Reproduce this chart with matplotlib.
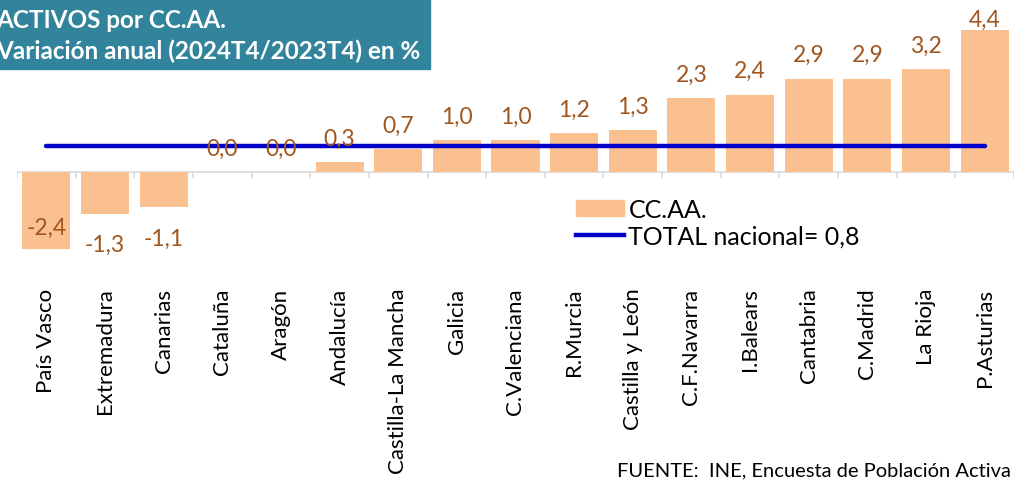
import matplotlib
matplotlib.use("Agg")
import matplotlib.pyplot as plt
import matplotlib.patches as mpatches
from matplotlib.lines import Line2D
import numpy as np

# ── Data ──────────────────────────────────────────────────────────────────────
regions = ["País Vasco", "Extremadura", "Canarias", "Cataluña", "Aragón",
           "Andalucía", "Castilla-La Mancha", "Galicia", "C.Valenciana",
           "R.Murcia", "Castilla y León", "C.F.Navarra", "I.Balears",
           "Cantabria", "C.Madrid", "La Rioja", "P.Asturias"]
values = [-2.4, -1.3, -1.1, 0.0, 0.0, 0.3, 0.7, 1.0, 1.0, 1.2, 1.3,
          2.3, 2.4, 2.9, 2.9, 3.2, 4.4]
total_nacional = 0.8

# ── Style ─────────────────────────────────────────────────────────────────────
BAR_COLOR = "#FAC090"
LINE_COLOR = "#0000C8"
LABEL_COLOR = "#A0561E"
BOX_COLOR = "#31849B"
FONT = "Lato"

plt.rcParams.update({"font.family": FONT})

W, H = 1014, 481
fig = plt.figure(figsize=(W / 100, H / 100), dpi=100)
ax = fig.add_axes([17 / W, 1 - 283 / H, (1014 - 17) / W, 283 / H])

x = np.arange(len(regions))
ymin, ymax = -3.42, 5.37
ax.bar(x, values, width=0.82, color=BAR_COLOR, zorder=2)
ax.plot([x[0], x[-1]], [total_nacional] * 2, color=LINE_COLOR, lw=3.2,
        solid_capstyle="round", zorder=3)

# axis line at zero with category-boundary ticks
ax.axhline(0, color="#D9D9D9", lw=1.2, zorder=1)
ax.vlines(np.arange(len(regions) + 1) - 0.5, -0.2, 0, color="#D9D9D9",
          lw=1.2, zorder=1)

for xi, v in zip(x, values):
    lbl = f"{v:.1f}".replace(".", ",")
    if v >= 0:
        y = min(v + 0.74, ymax - 0.62)
    else:
        y = v - 0.95
        if y - 0.3 < ymin:
            y = v + 0.68
    ax.text(xi, y, lbl, ha="center", va="center", fontsize=16.5,
            color=LABEL_COLOR, zorder=4)

ax.set_xlim(-0.5, len(regions) - 0.5)
ax.set_ylim(ymin, ymax)
ax.set_yticks([])
ax.set_xticks(x)
ax.set_xticklabels(regions, rotation=90, fontsize=16)
ax.tick_params(axis="x", length=0, pad=4)
for s in ax.spines.values():
    s.set_visible(False)
ax.patch.set_alpha(0)

# legend
handles = [mpatches.Patch(color=BAR_COLOR, label="CC.AA."),
           Line2D([], [], color=LINE_COLOR, lw=3.2, label="TOTAL nacional= 0,8")]
ax.legend(handles=handles, loc="upper left", bbox_to_anchor=(576 / W, 1 - 199 / H),
          bbox_transform=fig.transFigure, frameon=False, fontsize=18,
          handlelength=1.9, handleheight=0.6, handletextpad=0.2,
          labelspacing=0.15, borderaxespad=0, borderpad=0)

# title box
fig.patches.append(mpatches.Rectangle((0, 1 - 70 / H), 430 / W, 70 / H,
                                      transform=fig.transFigure,
                                      color=BOX_COLOR, zorder=0))
fig.text(-4 / W, 1 - 20 / H, "ACTIVOS por CC.AA.", color="white",
         fontsize=17.5, fontweight="bold", va="center", ha="left")
fig.text(-4 / W, 1 - 51 / H, "Variación anual (2024T4/2023T4) en %",
         color="white", fontsize=17.5, fontweight="bold", va="center", ha="left")

fig.text(617 / W, 1 - 476 / H, "FUENTE:  INE, Encuesta de Población Activa",
         fontsize=14.5, ha="left", va="baseline")

fig.savefig("out.png", dpi=100)
